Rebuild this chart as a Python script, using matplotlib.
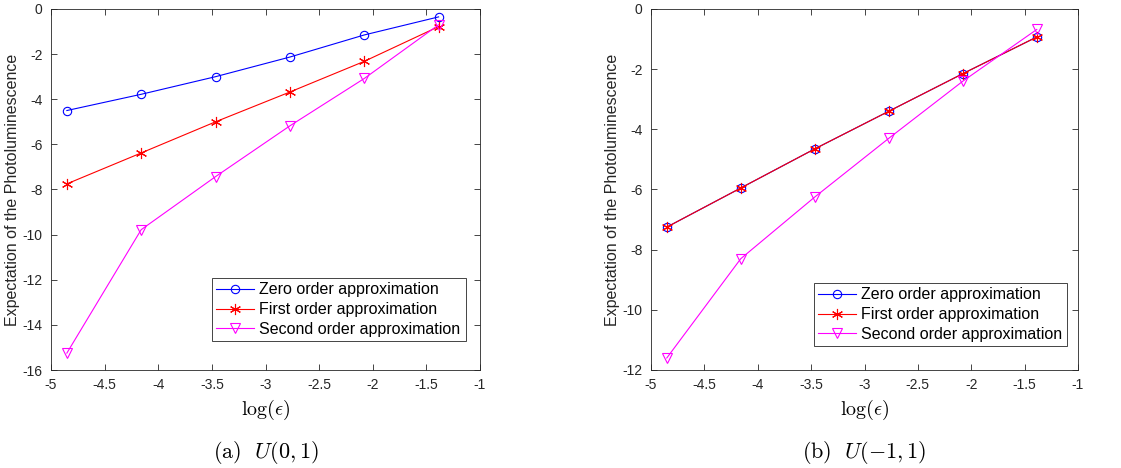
import numpy as np
import matplotlib
matplotlib.use("Agg")
import matplotlib.pyplot as plt

plt.rcParams['font.family'] = ['Liberation Sans', 'DejaVu Sans']
plt.rcParams['mathtext.fontset'] = 'cm'

# log(epsilon) values
log_eps = [-4.852, -4.159, -3.466, -2.773, -2.079, -1.386]

# (a) U(0,1)
a_zero = [-4.50, -3.78, -3.00, -2.13, -1.15, -0.35]
a_first = [-7.75, -6.38, -5.00, -3.68, -2.32, -0.78]
a_second = [-15.25, -9.78, -7.43, -5.18, -3.08, -0.70]

# (b) U(-1,1)
b_zero = [-7.25, -5.95, -4.65, -3.40, -2.15, -0.93]
b_first = [-7.25, -5.95, -4.65, -3.40, -2.15, -0.93]
b_second = [-11.60, -8.30, -6.25, -4.30, -2.40, -0.68]

labels = ['Zero order approximation', 'First order approximation',
          'Second order approximation']
captions = [r'$\mathrm{(a)}\ \ U(0,1)$', r'$\mathrm{(b)}\ \ U(-1,1)$']

# matlab-like asterisk
star = (6, 2, 0)

fig = plt.figure(figsize=(11.21, 4.68), dpi=100)
ax1 = fig.add_axes([51 / 1121, 1 - 370 / 468, 429 / 1121, 361 / 468])
ax2 = fig.add_axes([651 / 1121, 1 - 370 / 468, 427 / 1121, 361 / 468])

panels = [
    (ax1, a_zero, a_first, a_second, (-16, 0), np.arange(-16, 1, 2), (212, 273, 466, 341)),
    (ax2, b_zero, b_first, b_second, (-12, 0), np.arange(-12, 1, 2), (814, 279, 1067, 346)),
]

for i, (ax, z, f, s, ylim, yt, box) in enumerate(panels):
    ax.plot(log_eps, z, '-o', color='blue', lw=0.8, ms=6, mfc='none', mew=0.8, label=labels[0])
    ax.plot(log_eps, f, '-', marker=star, color='red', lw=0.8, ms=8, mew=0.8, label=labels[1])
    ax.plot(log_eps, s, '-v', color='magenta', lw=0.8, ms=7, mfc='none', mew=0.8, label=labels[2])
    ax.set_xlim(-5, -1)
    ax.set_ylim(*ylim)
    ax.set_xticks(np.arange(-5, -0.9, 0.5))
    ax.set_xticklabels(['-5', '-4.5', '-4', '-3.5', '-3', '-2.5', '-2', '-1.5', '-1'])
    ax.set_yticks(yt)
    ax.set_yticklabels([str(v) for v in yt])
    ax.tick_params(direction='in', top=True, right=True, labelsize=10,
                   length=4, width=0.6, colors='#262626', pad=6)
    for sp in ax.spines.values():
        sp.set_linewidth(0.6)
        sp.set_color('#262626')
    ax.set_ylabel('Expectation of the Photoluminescence', fontsize=11.5, color='#262626', labelpad=2)
    ax.set_xlabel(r'$\log(\epsilon)$', fontsize=14.5, labelpad=4)
    x0, y0, x1, y1 = box
    leg = ax.legend(loc='lower left', fontsize=11.5, frameon=True, fancybox=False,
                    edgecolor='#262626', framealpha=1, borderpad=0.25,
                    labelspacing=0.3, handlelength=2.4, handletextpad=0.3,
                    borderaxespad=0,
                    bbox_to_anchor=(x0 / 1121, 1 - y1 / 468, (x1 - x0) / 1121, (y1 - y0) / 468),
                    bbox_transform=fig.transFigure, mode='expand')
    leg.get_frame().set_linewidth(0.6)
    cx = (51 + 480) / 2 if i == 0 else (651 + 1078) / 2
    fig.text(cx / 1121, 1 - 452 / 468, captions[i], ha='center', va='center', fontsize=16)

fig.savefig('out.png', dpi=100)
